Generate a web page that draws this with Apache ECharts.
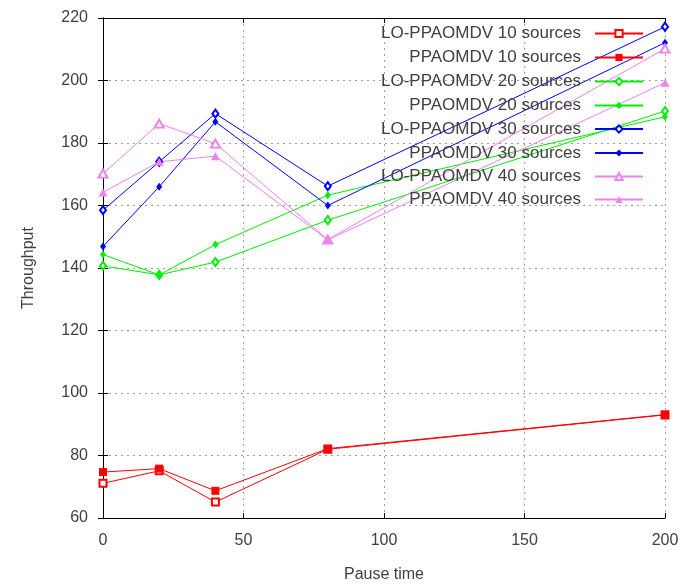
<!DOCTYPE html>
<html>
<head>
<meta charset="utf-8">
<script src="https://cdn.jsdelivr.net/npm/echarts@6/dist/echarts.min.js"></script>
<style>
  html, body { margin: 0; padding: 0; background: #fff; }
  #chart { width: 691px; height: 584px; }
</style>
</head>
<body>
<div id="chart"></div>
<script>
// pause time values on x axis
const pauseTimes = [0, 20, 40, 80, 200];

const seriesNames = [
  'LO-PPAOMDV 10 sources', 'PPAOMDV 10 sources',
  'LO-PPAOMDV 20 sources', 'PPAOMDV 20 sources',
  'LO-PPAOMDV 30 sources', 'PPAOMDV 30 sources',
  'LO-PPAOMDV 40 sources', 'PPAOMDV 40 sources'
];

// throughput readings
const lo10 = [71.1, 75.1, 65.1, 82.0, 93.0];
const pp10 = [74.7, 75.8, 68.7, 82.2, 93.1];
const lo20 = [140.7, 137.8, 141.9, 155.3, 190.2];
const pp20 = [144.3, 137.8, 147.5, 163.3, 188.4];
const lo30 = [158.5, 174.0, 189.4, 166.2, 217.2];
const pp30 = [146.9, 166.0, 186.8, 160.0, 212.1];
const lo40 = [170.2, 186.2, 179.8, 149.1, 210.2];
const pp40 = [164.2, 174.0, 175.8, 149.0, 199.3];

const xTicks = [0, 50, 100, 150, 200];
const yTicks = [60, 80, 100, 120, 140, 160, 180, 200, 220];

const seriesValues = [lo10, pp10, lo20, pp20, lo30, pp30, lo40, pp40];
const colors = ['#ff0000', '#ff0000', '#00f000', '#00f000', '#0000ff', '#0000ff', '#ee82ee', '#ee82ee'];
const symbols = ['emptyRect', 'rect', 'emptyDiamond', 'diamond', 'emptyDiamond', 'diamond', 'emptyTriangle', 'triangle'];
const symbolSizes = [7, 8, [6, 8], [6, 8], [6, 8], [6, 8], [9, 8], [9, 8]];

const chart = echarts.init(document.getElementById('chart'));

const font = '"Liberation Sans", Arial, sans-serif';
const textColor = '#404040';

const series = seriesNames.map((name, i) => ({
  name: name,
  type: 'line',
  data: pauseTimes.map((x, j) => [x, seriesValues[i][j]]),
  symbol: symbols[i],
  symbolSize: symbolSizes[i],
  showAllSymbol: true,
  animation: false,
  itemStyle: { color: colors[i], borderWidth: 1 },
  lineStyle: { color: colors[i], width: 1 },
  emphasis: { disabled: true }
}));

// one legend per entry so text right-aligns with icons in a column
const rowTops = [34, 58, 82, 106, 129.5, 153.5, 177, 200];
const legends = seriesNames.map((name, i) => ({
  data: [name],
  orient: 'vertical',
  right: 47,
  top: rowTops[i] - 9,
  align: 'right',
  itemWidth: 48,
  itemHeight: 9,
  padding: 0,
  selectedMode: false,
  textStyle: { fontFamily: font, fontSize: 17, color: textColor, padding: [0, 9, 0, 0] }
}));

const gridLine = { show: true, lineStyle: { color: '#a0a0a0', type: [2, 4], width: 1 } };

const option = {
  backgroundColor: '#fff',
  animation: false,
  legend: legends,
  grid: { left: 103, right: 26, top: 18, bottom: 66, outerBoundsMode: 'none' },
  xAxis: [{
    type: 'value',
    min: xTicks[0],
    max: xTicks[xTicks.length - 1],
    interval: 50,
    name: 'Pause time',
    nameLocation: 'middle',
    nameGap: 49,
    nameTextStyle: { fontFamily: font, fontSize: 16, color: textColor },
    axisLine: { show: true, lineStyle: { color: '#000', width: 1 } },
    axisTick: { show: true, inside: true, length: 5, lineStyle: { color: '#000' } },
    axisLabel: { fontFamily: font, fontSize: 16, color: textColor, margin: 15 },
    splitLine: gridLine
  }, {
    type: 'value',
    position: 'top',
    min: xTicks[0],
    max: xTicks[xTicks.length - 1],
    interval: 50,
    axisLine: { show: true, lineStyle: { color: '#000', width: 1 } },
    axisTick: { show: true, inside: true, length: 5, lineStyle: { color: '#000' } },
    axisLabel: { show: false },
    splitLine: { show: false }
  }],
  yAxis: [{
    type: 'value',
    min: yTicks[0],
    max: yTicks[yTicks.length - 1],
    interval: 20,
    name: 'Throughput',
    nameLocation: 'middle',
    nameGap: 66,
    nameTextStyle: { fontFamily: font, fontSize: 16, color: textColor },
    axisLine: { show: true, lineStyle: { color: '#000', width: 1 } },
    axisTick: { show: true, inside: true, length: 5, lineStyle: { color: '#000' } },
    axisLabel: { fontFamily: font, fontSize: 16, color: textColor, margin: 15 },
    splitLine: gridLine
  }, {
    type: 'value',
    position: 'right',
    min: yTicks[0],
    max: yTicks[yTicks.length - 1],
    interval: 20,
    axisLine: { show: true, lineStyle: { color: '#000', width: 1 } },
    axisTick: { show: true, inside: true, length: 5, lineStyle: { color: '#000' } },
    axisLabel: { show: false },
    splitLine: { show: false }
  }],
  series: series
};

chart.setOption(option);
</script>
</body>
</html>
